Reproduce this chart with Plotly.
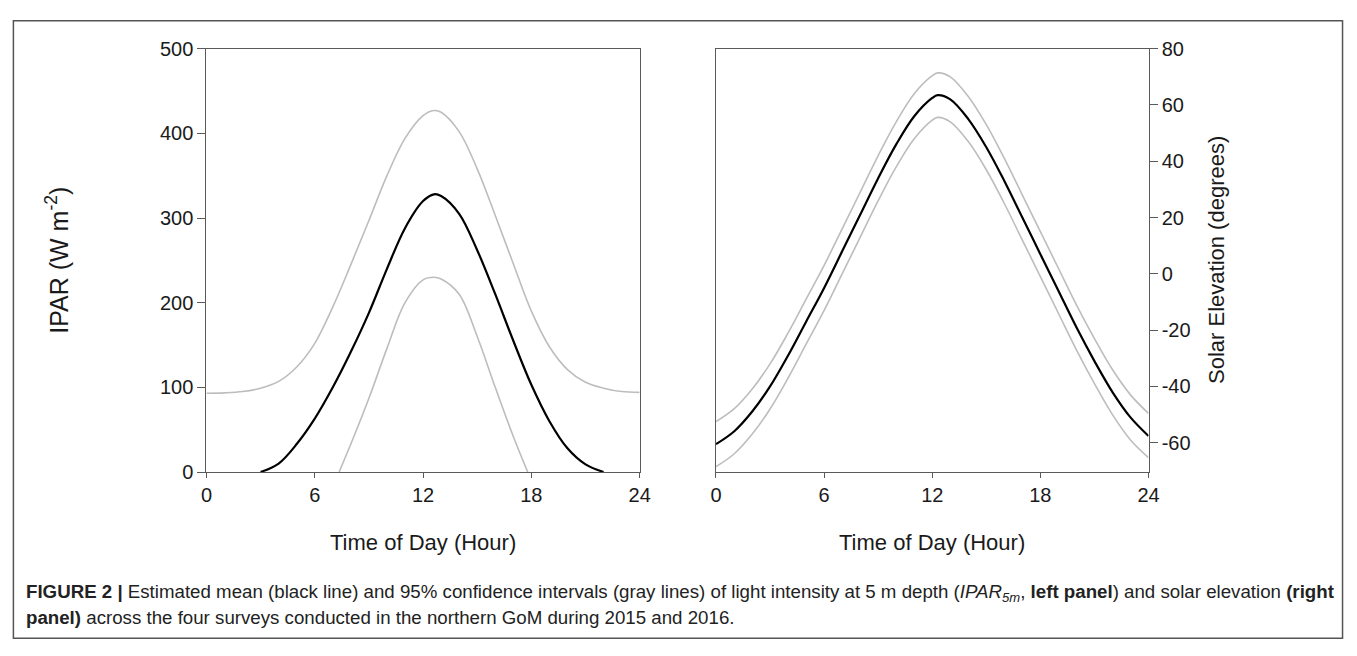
import plotly.graph_objects as go

# ---------------- data ----------------
# Left panel: IPAR at 5 m depth
ipar_mean_h = [3, 4, 5, 6, 7, 8, 9, 10, 11, 12, 12.6, 13, 14, 15, 16, 17, 18, 19, 20, 21, 22]
ipar_mean_v = [0, 10, 33, 63, 100, 142, 188, 240, 288, 320, 328, 326, 305, 262, 210, 155, 103, 60, 28, 9, 0]

ipar_up_h = [0, 1, 2, 3, 4, 5, 6, 7, 8, 9, 10, 11, 12, 12.6, 13, 14, 15, 16, 17, 18, 19, 20, 21, 22, 23, 24]
ipar_up_v = [93, 93.5, 95, 99, 107, 124, 152, 195, 245, 297, 350, 394, 421, 427, 425, 402, 358, 303, 246, 190, 148, 121, 106, 99, 95, 94]

ipar_lo_h = [7.35, 8, 9, 10, 11, 12, 12.6, 13, 14, 15, 16, 17, 17.8]
ipar_lo_v = [0, 33, 87, 146, 200, 227, 230, 228, 210, 160, 100, 42, 0]

# Right panel: solar elevation
sol_h = [0, 1, 2, 3, 4, 5, 6, 7, 8, 9, 10, 11, 12, 12.3, 13, 14, 15, 16, 17, 18, 19, 20, 21, 22, 23, 24]
sol_mean = [-60.5, -56, -49, -40, -29, -17, -5, 8, 21, 34, 46, 56, 62.5, 63.5, 62, 55, 45, 33, 20, 7, -6, -19, -31, -42, -51, -57.6]
sol_up = [-52.5, -48, -41, -32, -21, -9, 3, 16, 29, 42, 54, 64, 70.4, 71.4, 70, 63, 53, 41, 28, 15, 2, -11, -23, -34, -43, -49.6]
sol_lo = [-68.5, -64, -57, -48, -37, -25, -13, 0, 13, 26, 38, 48, 54.6, 55.6, 54, 47, 37, 25, 12, -1, -14, -27, -39, -50, -59, -65.3]

x_ticks = [0, 6, 12, 18, 24]
ipar_ticks = [0, 100, 200, 300, 400, 500]
sol_ticks = [-60, -40, -20, 0, 20, 40, 60, 80]
sol_ticktext = ["-60", "-40", "-20", "0", "20", "40", "60", "80"]

# ---------------- figure ----------------
W, H = 1357, 656


def px(x):
    return x / W


def py(y):
    return 1 - y / H


GRAY = "#bdbdbd"
AX = "#5a5a5a"
FONT = "Liberation Sans, Arial, sans-serif"

fig = go.Figure()


def line(x, y, color, width, xa, ya):
    fig.add_trace(go.Scatter(x=x, y=y, mode="lines",
                             line=dict(color=color, width=width, shape="spline", smoothing=1.0),
                             xaxis=xa, yaxis=ya, showlegend=False, hoverinfo="skip", cliponaxis=True))


line(ipar_up_h, ipar_up_v, GRAY, 1.6, "x", "y")
line(ipar_lo_h, ipar_lo_v, GRAY, 1.6, "x", "y")
line(ipar_mean_h, ipar_mean_v, "black", 2.2, "x", "y")

line(sol_h, sol_up, GRAY, 1.6, "x2", "y2")
line(sol_h, sol_lo, GRAY, 1.6, "x2", "y2")
line(sol_h, sol_mean, "black", 2.2, "x2", "y2")

ydom = [py(477), py(39)]
axcommon = dict(showgrid=False, zeroline=False, showline=True, linecolor=AX, linewidth=1.3, mirror=True,
                ticks="outside", tickcolor=AX, tickwidth=1.2,
                tickfont=dict(family=FONT, size=20, color="#1a1a1a"))

fig.update_layout(
    width=W, height=H, margin=dict(l=0, r=0, t=0, b=0),
    paper_bgcolor="white", plot_bgcolor="white",
    xaxis=dict(domain=[px(203), px(641.7)], range=[0, 24], tickvals=x_ticks, anchor="y", ticklen=5, **axcommon),
    yaxis=dict(domain=ydom, range=[0, 500], tickvals=ipar_ticks, anchor="x", ticklen=8, **axcommon),
    xaxis2=dict(domain=[px(719), px(1157)], range=[0, 24], tickvals=x_ticks, anchor="y2", ticklen=5, **axcommon),
    yaxis2=dict(domain=ydom, range=[-70.4, 80], tickvals=sol_ticks, ticktext=sol_ticktext, anchor="x2",
                side="right", ticklen=8, **axcommon),
)

# Axis titles
tfont = dict(family=FONT, size=22, color="#1a1a1a")
fig.add_annotation(text="Time of Day (Hour)", x=px((203 + 641.7) / 2), y=py(550), xref="paper", yref="paper",
                   showarrow=False, font=tfont, xanchor="center", yanchor="middle")
fig.add_annotation(text="Time of Day (Hour)", x=px((719 + 1157) / 2), y=py(550), xref="paper", yref="paper",
                   showarrow=False, font=tfont, xanchor="center", yanchor="middle")
fig.add_annotation(text="IPAR (W m<sup>-2</sup>)", x=px(52), y=py(258), xref="paper", yref="paper",
                   showarrow=False, font=dict(family=FONT, size=25, color="#1a1a1a"), textangle=-90,
                   xanchor="center", yanchor="middle")
fig.add_annotation(text="Solar Elevation (degrees)", x=px(1226), y=py(258), xref="paper", yref="paper",
                   showarrow=False, font=tfont, textangle=-90, xanchor="center", yanchor="middle")

# Caption
cfont = dict(family=FONT, size=18.7, color="#222222")
fig.add_annotation(
    text="<b>FIGURE 2 |</b> Estimated mean (black line) and 95% confidence intervals (gray lines) of light intensity at 5 m depth "
         "(<i>IPAR<sub>5m</sub></i>, <b>left panel</b>) and solar elevation <b>(right</b>",
    x=px(18), y=py(602), xref="paper", yref="paper", showarrow=False, font=cfont,
    xanchor="left", yanchor="middle", align="left")
fig.add_annotation(
    text="<b>panel)</b> across the four surveys conducted in the northern GoM during 2015 and 2016.",
    x=px(18), y=py(628), xref="paper", yref="paper", showarrow=False, font=cfont,
    xanchor="left", yanchor="middle", align="left")

# Outer frame
fig.add_shape(type="rect", xref="paper", yref="paper", x0=px(7.5), x1=px(1353.5), y0=py(649), y1=py(10),
              line=dict(color="#555555", width=1.5), fillcolor="rgba(0,0,0,0)")

fig.write_html("out.html")
